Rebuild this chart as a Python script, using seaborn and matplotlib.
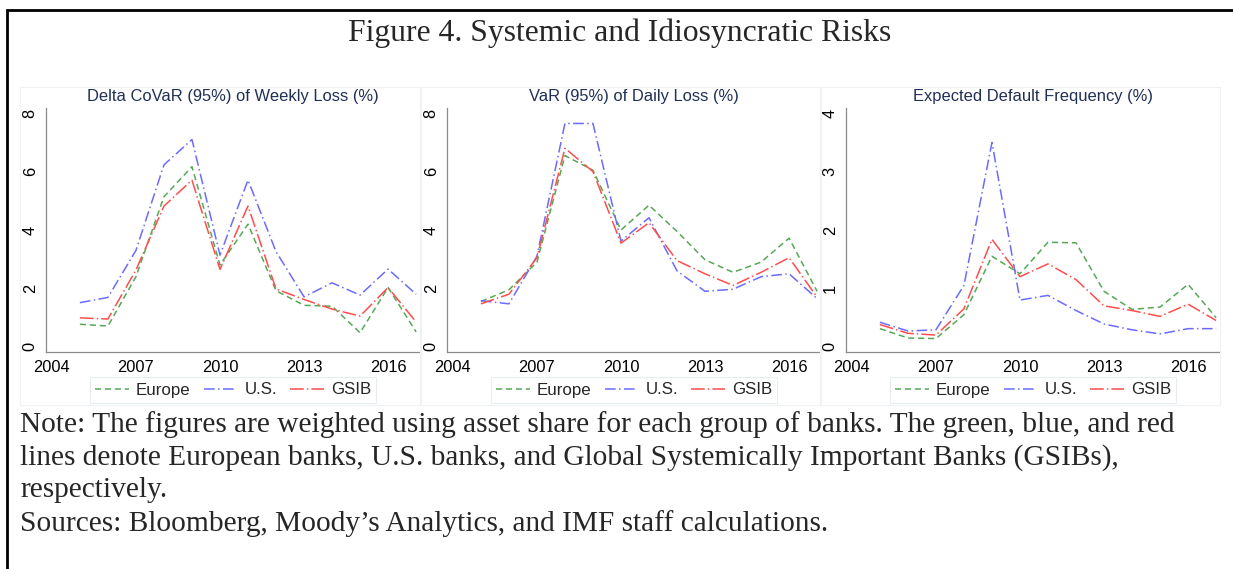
import numpy as np
import pandas as pd
import matplotlib
matplotlib.use("Agg")
import matplotlib.pyplot as plt
import seaborn as sns
from matplotlib.patches import Rectangle
from matplotlib.lines import Line2D

sns.set_style("white")
plt.rcParams['font.family'] = ['Liberation Sans', 'DejaVu Sans']

years = list(range(2005, 2018))
groups = ["Europe", "U.S.", "GSIB"]

covar_europe = [0.77, 0.71, 2.40, 5.14, 6.17, 2.80, 4.20, 1.92, 1.42, 1.39, 0.48, 2.03, 0.51]
covar_us     = [1.51, 1.69, 3.30, 6.23, 7.10, 3.14, 5.71, 3.26, 1.71, 2.19, 1.77, 2.66, 1.80]
covar_gsib   = [0.99, 0.95, 2.63, 4.82, 5.71, 2.65, 4.82, 1.98, 1.62, 1.29, 1.05, 2.03, 0.85]

var_europe = [1.55, 1.95, 2.90, 6.55, 6.05, 4.00, 4.85, 3.95, 2.98, 2.55, 2.90, 3.72, 1.90]
var_us     = [1.58, 1.47, 3.10, 7.65, 7.65, 3.62, 4.42, 2.60, 1.90, 1.97, 2.40, 2.50, 1.65]
var_gsib   = [1.47, 1.80, 3.05, 6.80, 6.00, 3.55, 4.25, 2.95, 2.50, 2.10, 2.55, 3.05, 1.70]

edf_europe = [0.31, 0.15, 0.14, 0.55, 1.55, 1.25, 1.79, 1.78, 0.95, 0.64, 0.68, 1.07, 0.50]
edf_us     = [0.42, 0.27, 0.29, 1.05, 3.50, 0.80, 0.88, 0.62, 0.39, 0.29, 0.22, 0.31, 0.31]
edf_gsib   = [0.38, 0.23, 0.20, 0.65, 1.84, 1.20, 1.42, 1.15, 0.70, 0.62, 0.52, 0.73, 0.45]

titles = ["Delta CoVaR (95%) of Weekly Loss (%)",
          "VaR (95%) of Daily Loss (%)",
          "Expected Default Frequency (%)"]
panels = [(covar_europe, covar_us, covar_gsib),
          (var_europe, var_us, var_gsib),
          (edf_europe, edf_us, edf_gsib)]
yticks_list = [[0, 2, 4, 6, 8], [0, 2, 4, 6, 8], [0, 1, 2, 3, 4]]
xticks = [2004, 2007, 2010, 2013, 2016]

palette = {"Europe": "#55a855", "U.S.": "#6b6bff", "GSIB": "#ff4d4d"}
dashes = {"Europe": (4, 2.5), "U.S.": (7, 2.2, 1, 2.2), "GSIB": (9, 2, 1, 2)}

W, H = 1233, 569
fig = plt.figure(figsize=(W / 100, H / 100), dpi=100)

# outer border
fig.patches.append(Rectangle((7 / W, -0.1), 1.2, 1 - 10 / H + 0.1, transform=fig.transFigure,
                             fill=False, edgecolor="black", linewidth=2.0))

fig.text(620 / W, 1 - 33 / H, "Figure 4. Systemic and Idiosyncratic Risks",
         family="Liberation Serif", fontsize=22.8, ha="center", va="center")

lefts = [46, 447, 846]
ax_w = 374
top_px, bot_px = 108, 352

for i, (vals, title, yt) in enumerate(zip(panels, titles, yticks_list)):
    # faint panel frame
    fig.patches.append(Rectangle(((lefts[i] - 26) / W, 1 - 405 / H), 400 / W, (405 - 87) / H,
                                 transform=fig.transFigure, fill=False,
                                 edgecolor="#eef2f4", linewidth=0.8))
    ax = fig.add_axes([lefts[i] / W, 1 - bot_px / H, ax_w / W, (bot_px - top_px) / H])
    df = pd.DataFrame({
        "year": years * 3,
        "value": list(vals[0]) + list(vals[1]) + list(vals[2]),
        "group": sum([[g] * len(years) for g in groups], []),
    })
    sns.lineplot(data=df, x="year", y="value", hue="group", style="group",
                 palette=palette, dashes=dashes, hue_order=groups, style_order=groups,
                 linewidth=1.1, legend=False, ax=ax)
    ymax = yt[-1]
    pad = ymax * 0.0225
    ax.set_ylim(-pad, ymax + pad)
    ax.set_xlim(2003.79, 2017.14)
    ax.set_xticks(xticks)
    ax.set_yticks(yt)
    ax.set_xlabel("")
    ax.set_ylabel("")
    for s in ["top", "right"]:
        ax.spines[s].set_visible(False)
    for s in ["left", "bottom"]:
        ax.spines[s].set_color("#8a8a8a")
        ax.spines[s].set_linewidth(0.9)
    ax.tick_params(axis="both", which="major", length=4, width=0.8, color="#8a8a8a",
                   labelsize=11.8, labelcolor="black", direction="out", pad=2)
    for lab in ax.get_yticklabels():
        lab.set_rotation(90)
        lab.set_va("center")
    ax.set_facecolor("white")
    cx = (lefts[i] + ax_w / 2) / W
    fig.text(cx, 1 - 97 / H, title, ha="center", va="center", fontsize=11.9,
             color="#1f2f55")
    handles = [Line2D([0], [0], color=palette[g], dashes=dashes[g], linewidth=1.1) for g in groups]
    leg = fig.legend(handles, groups, loc="center", bbox_to_anchor=(cx, 1 - 390 / H),
                     ncol=3, frameon=True, fontsize=12.2, handlelength=2.0,
                     columnspacing=0.8, handletextpad=0.4, borderpad=0.3,
                     fancybox=False)
    leg.get_frame().set_edgecolor("#e3e9ec")
    leg.get_frame().set_linewidth(0.8)

note_lines = [
    "Note: The figures are weighted using asset share for each group of banks. The green, blue, and red",
    "lines denote European banks, U.S. banks, and Global Systemically Important Banks (GSIBs),",
    "respectively.",
    "Sources: Bloomberg, Moody\u2019s Analytics, and IMF staff calculations.",
]
for k, line in enumerate(note_lines):
    fig.text(20 / W, 1 - (425 + 32.7 * k) / H, line, family="Liberation Serif",
             fontsize=21.2, ha="left", va="center")

fig.savefig("out.png", dpi=100)
